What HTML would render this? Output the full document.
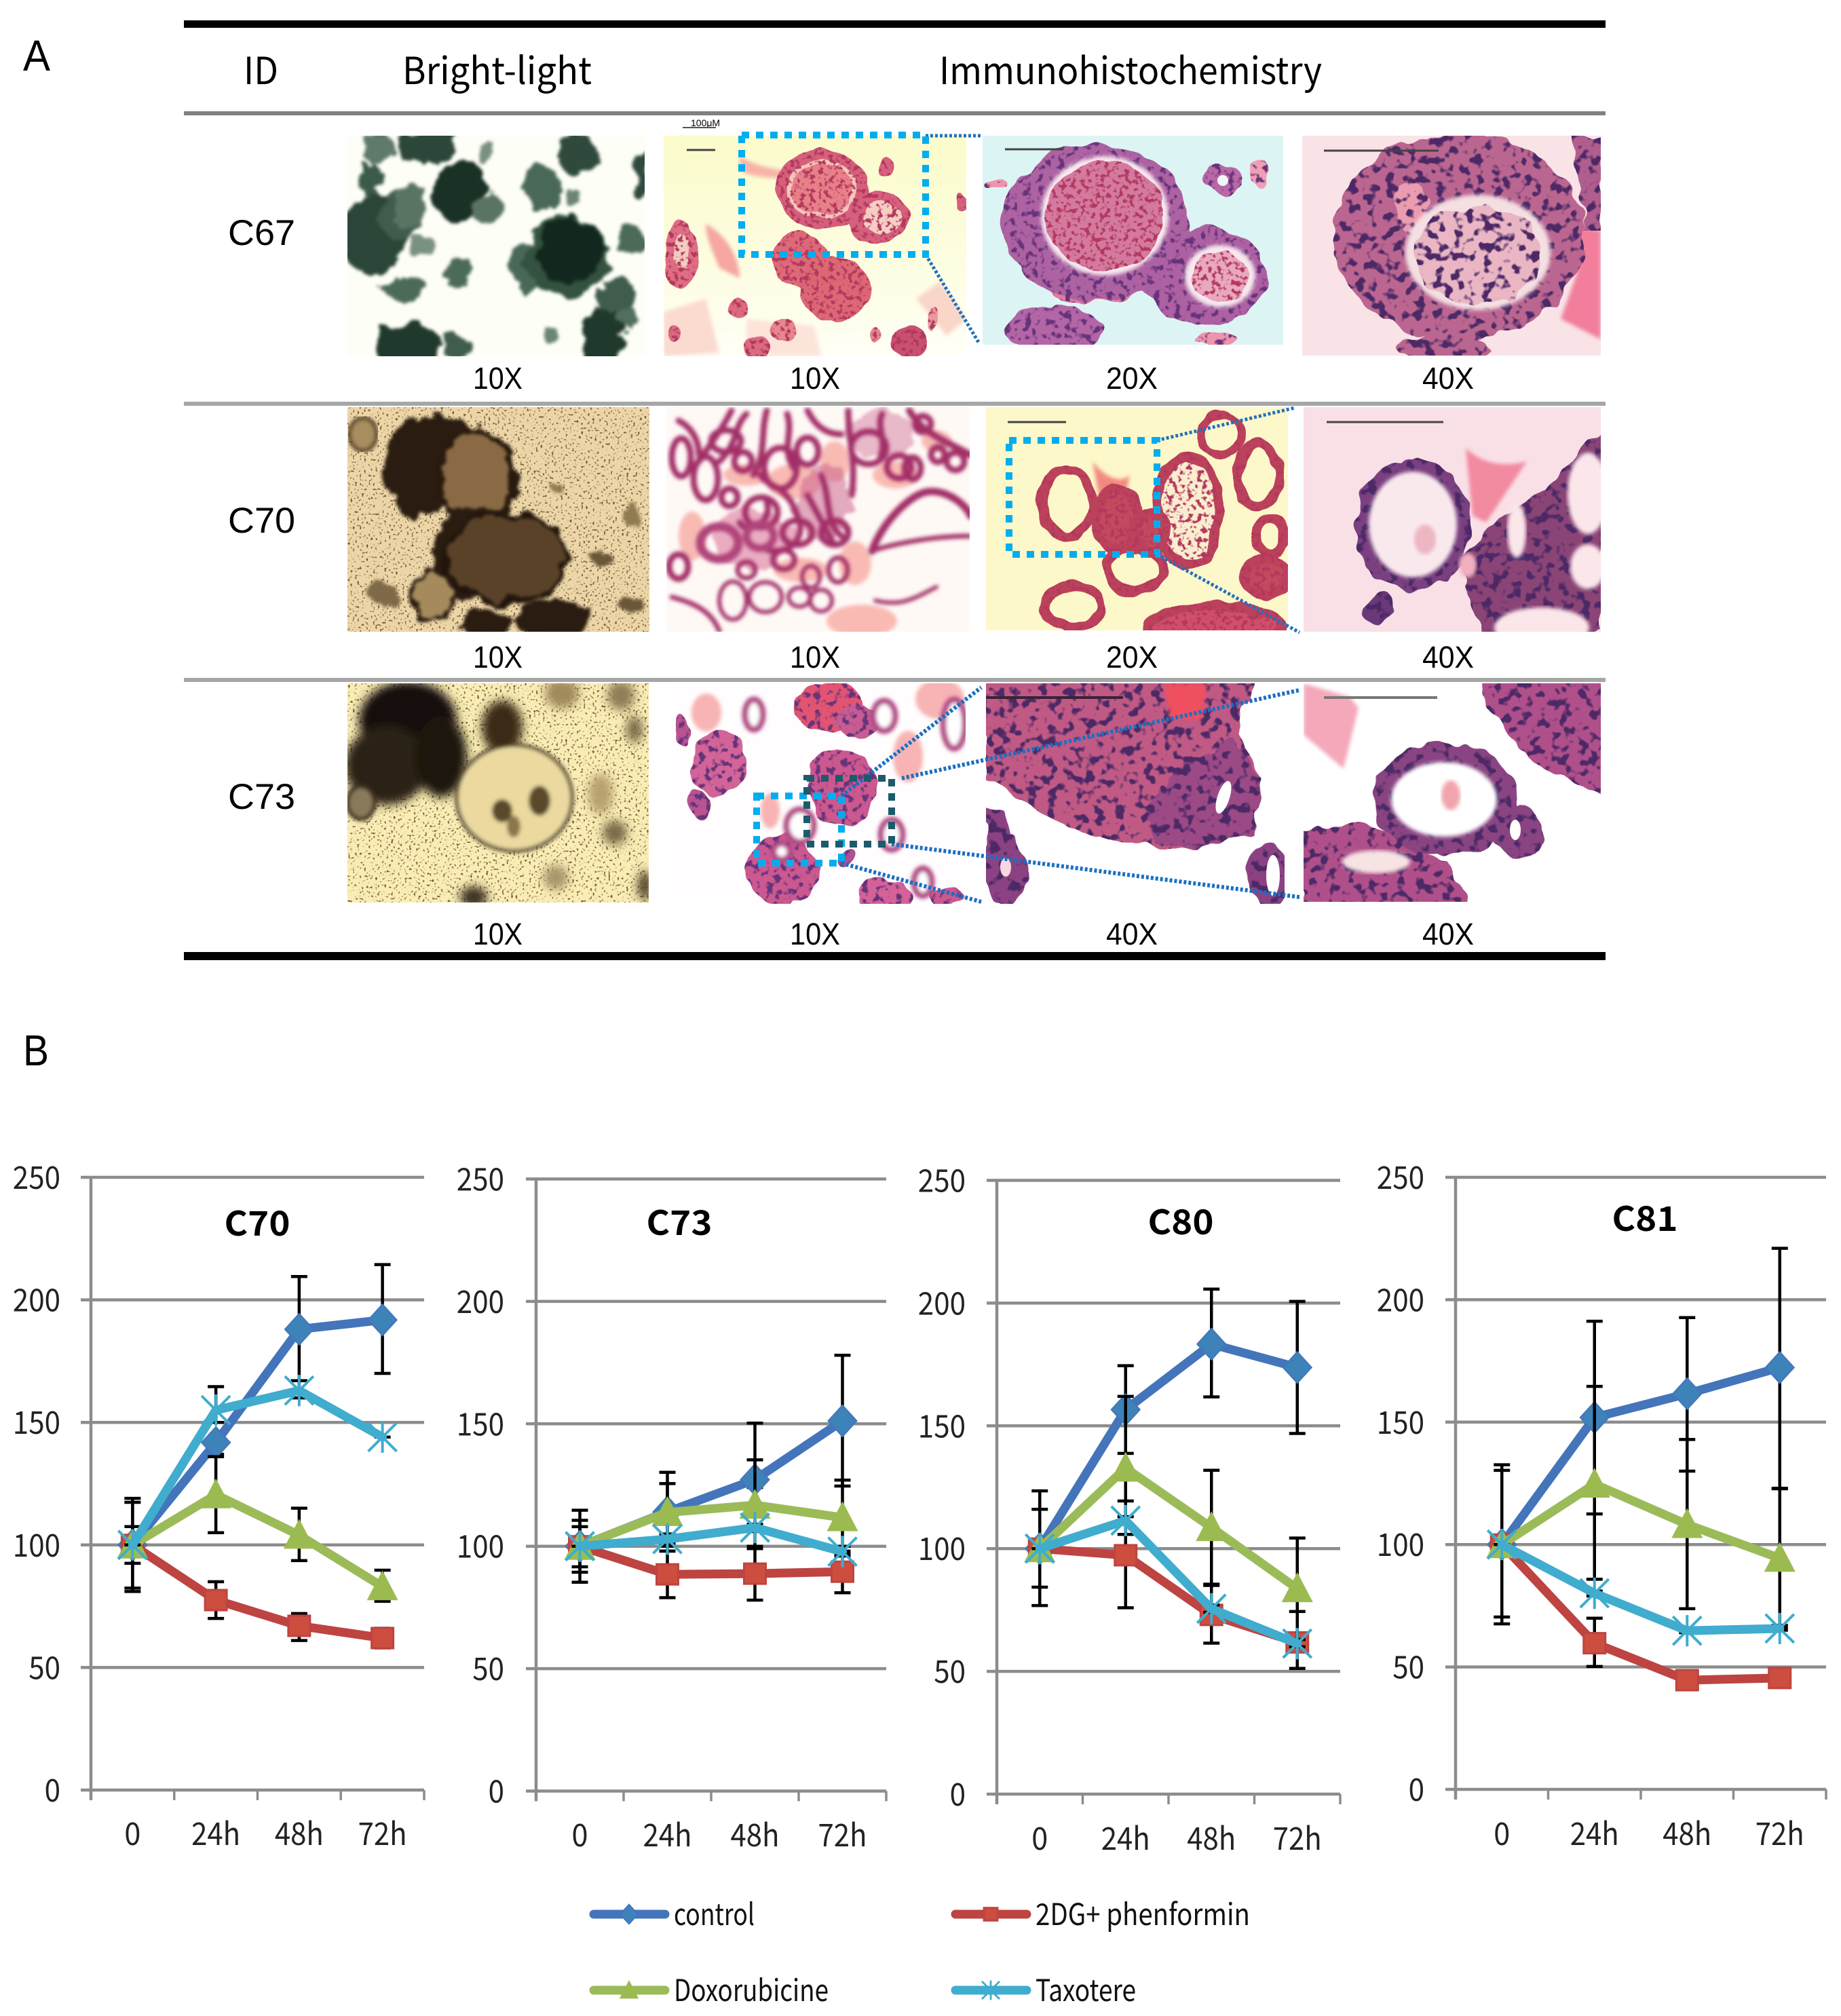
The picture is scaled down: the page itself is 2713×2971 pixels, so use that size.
<!DOCTYPE html>
<html lang="en">
<head>
<meta charset="utf-8">
<title>Organoid histology and drug response</title>
<style>
html,body{margin:0;padding:0;background:#fff;}
#figure{position:absolute;left:0;top:0;display:block;}
.kr{font-family:"Noto Sans CJK KR","Liberation Sans",sans-serif;}
.ar{font-family:"Liberation Sans",sans-serif;}
</style>
</head>
<body>
<svg id="figure" xmlns="http://www.w3.org/2000/svg" width="2713" height="2971" viewBox="0 0 2713 2971">
<defs>
  <filter id="soft" x="-5%" y="-5%" width="110%" height="110%"><feGaussianBlur stdDeviation="3"/></filter>
  <filter id="soft2" x="-10%" y="-10%" width="120%" height="120%"><feGaussianBlur stdDeviation="7"/></filter>
  <filter id="rough" x="-5%" y="-5%" width="110%" height="110%" color-interpolation-filters="sRGB">
    <feTurbulence type="fractalNoise" baseFrequency="0.035" numOctaves="3" seed="7" result="w"/>
    <feDisplacementMap in="SourceGraphic" in2="w" scale="30" xChannelSelector="R" yChannelSelector="G"/>
    <feGaussianBlur stdDeviation="2.5"/>
  </filter>
  <filter id="cells" x="-3%" y="-3%" width="106%" height="106%" color-interpolation-filters="sRGB">
    <feTurbulence type="fractalNoise" baseFrequency="0.03" numOctaves="2" seed="2" result="w"/>
    <feDisplacementMap in="SourceGraphic" in2="w" scale="20" xChannelSelector="R" yChannelSelector="G" result="s"/>
    <feTurbulence type="fractalNoise" baseFrequency="0.1" numOctaves="2" seed="4" result="n"/>
    <feColorMatrix in="n" type="matrix" values="0 0 0 0 .40  0 0 0 0 .20  0 0 0 0 .48  7 0 0 0 -3.7" result="d"/>
    <feComposite in="d" in2="s" operator="in" result="dots"/>
    <feMerge><feMergeNode in="s"/><feMergeNode in="dots"/></feMerge>
  </filter>
  <filter id="cellsBig" x="-3%" y="-3%" width="106%" height="106%" color-interpolation-filters="sRGB">
    <feTurbulence type="fractalNoise" baseFrequency="0.03" numOctaves="2" seed="5" result="w"/>
    <feDisplacementMap in="SourceGraphic" in2="w" scale="22" xChannelSelector="R" yChannelSelector="G" result="s"/>
    <feTurbulence type="fractalNoise" baseFrequency="0.07" numOctaves="2" seed="11" result="n"/>
    <feColorMatrix in="n" type="matrix" values="0 0 0 0 .30  0 0 0 0 .16  0 0 0 0 .40  8 0 0 0 -4.2" result="d"/>
    <feComposite in="d" in2="s" operator="in" result="dots"/>
    <feMerge><feMergeNode in="s"/><feMergeNode in="dots"/></feMerge>
  </filter>
  <filter id="cellsPink" x="-3%" y="-3%" width="106%" height="106%" color-interpolation-filters="sRGB">
    <feTurbulence type="fractalNoise" baseFrequency="0.03" numOctaves="2" seed="3" result="w"/>
    <feDisplacementMap in="SourceGraphic" in2="w" scale="14" xChannelSelector="R" yChannelSelector="G" result="s"/>
    <feTurbulence type="fractalNoise" baseFrequency="0.14" numOctaves="2" seed="6" result="n"/>
    <feColorMatrix in="n" type="matrix" values="0 0 0 0 .70  0 0 0 0 .22  0 0 0 0 .36  7 0 0 0 -3.6" result="d"/>
    <feComposite in="d" in2="s" operator="in" result="dots"/>
    <feMerge><feMergeNode in="s"/><feMergeNode in="dots"/></feMerge>
  </filter>
  <filter id="speck" x="0" y="0" width="100%" height="100%" color-interpolation-filters="sRGB">
    <feTurbulence type="fractalNoise" baseFrequency="0.3" numOctaves="1" seed="9" result="n"/>
    <feColorMatrix in="n" type="matrix" values="0 0 0 0 .45  0 0 0 0 .33  0 0 0 0 .18  7 0 0 0 -4.1" result="d"/>
    <feComposite in="d" in2="SourceAlpha" operator="in" result="dots"/>
    <feMerge><feMergeNode in="SourceGraphic"/><feMergeNode in="dots"/></feMerge>
  </filter>
  <linearGradient id="yel1" x1="0" y1="0" x2="0" y2="1"><stop offset="0" stop-color="#fbfbcb"/><stop offset=".55" stop-color="#fdfde0"/><stop offset="1" stop-color="#fffff6"/></linearGradient>
  <clipPath id="p11"><rect x="512" y="200" width="438" height="325"/></clipPath>
  <clipPath id="p12"><rect x="978" y="200" width="446" height="325"/></clipPath>
  <clipPath id="p13"><rect x="1448" y="200" width="443" height="308"/></clipPath>
  <clipPath id="p14"><rect x="1919" y="200" width="440" height="324"/></clipPath>
  <clipPath id="p21"><rect x="512" y="600" width="445" height="331"/></clipPath>
  <clipPath id="p22"><rect x="982" y="600" width="447" height="331"/></clipPath>
  <clipPath id="p23"><rect x="1453" y="600" width="445" height="329"/></clipPath>
  <clipPath id="p24"><rect x="1921" y="600" width="438" height="331"/></clipPath>
  <clipPath id="p31"><rect x="512" y="1007" width="444" height="323"/></clipPath>
  <clipPath id="p32"><rect x="983" y="1007" width="440" height="325"/></clipPath>
  <clipPath id="p33"><rect x="1453" y="1007" width="440" height="325"/></clipPath>
  <clipPath id="p34"><rect x="1921" y="1007" width="438" height="322"/></clipPath>
</defs>

<rect width="2713" height="2971" fill="#fff"/>

<text class="ar" x="34" y="104" font-size="64" textLength="40" lengthAdjust="spacingAndGlyphs">A</text>
<text class="ar" x="34" y="1570" font-size="64" textLength="38" lengthAdjust="spacingAndGlyphs">B</text>

<rect x="271" y="30" width="2095" height="11" fill="#000"/>
<rect x="271" y="164" width="2095" height="6" fill="#808080"/>
<rect x="271" y="592" width="2095" height="6" fill="#a6a6a6"/>
<rect x="271" y="999" width="2095" height="6" fill="#a6a6a6"/>
<rect x="271" y="1403" width="2095" height="12" fill="#000"/>

<text class="kr" x="359" y="124" font-size="55" textLength="51" lengthAdjust="spacingAndGlyphs">ID</text>
<text class="kr" x="593" y="124" font-size="55" textLength="279" lengthAdjust="spacingAndGlyphs">Bright-light</text>
<text class="kr" x="1384" y="124" font-size="55" textLength="564" lengthAdjust="spacingAndGlyphs">Immunohistochemistry</text>

<text class="ar" x="336" y="361" font-size="53" textLength="99" lengthAdjust="spacingAndGlyphs">C67</text>
<text class="ar" x="336" y="785" font-size="53" textLength="99" lengthAdjust="spacingAndGlyphs">C70</text>
<text class="ar" x="336" y="1192" font-size="53" textLength="99" lengthAdjust="spacingAndGlyphs">C73</text>

<!-- ROW 1 -->
<g clip-path="url(#p11)">
  <rect x="512" y="200" width="438" height="325" fill="#fdfef6"/>
  <g filter="url(#rough)">
    <ellipse cx="550" cy="345" rx="44" ry="62" fill="#2b4638"/>
    <ellipse cx="590" cy="320" rx="30" ry="38" fill="#3f5c4c"/>
    <ellipse cx="603" cy="305" rx="24" ry="28" fill="#5a7464"/>
    <ellipse cx="555" cy="217" rx="22" ry="22" fill="#5f7a6a"/>
    <ellipse cx="628" cy="215" rx="42" ry="26" fill="#2c4739"/>
    <ellipse cx="546" cy="262" rx="20" ry="24" fill="#3c5a4a"/>
    <ellipse cx="677" cy="285" rx="40" ry="46" fill="#1a3126"/>
    <ellipse cx="718" cy="310" rx="22" ry="20" fill="#5a7464"/>
    <ellipse cx="717" cy="223" rx="12" ry="16" fill="#7a9080"/>
    <ellipse cx="851" cy="227" rx="30" ry="30" fill="#2f4a3d"/>
    <ellipse cx="800" cy="275" rx="28" ry="33" fill="#4a6858"/>
    <ellipse cx="846" cy="294" rx="11" ry="12" fill="#6c8574"/>
    <ellipse cx="944" cy="263" rx="10" ry="34" fill="#2f4a3d"/>
    <ellipse cx="620" cy="364" rx="18" ry="14" fill="#7a9080"/>
    <ellipse cx="675" cy="404" rx="21" ry="23" fill="#4c6a58"/>
    <ellipse cx="592" cy="425" rx="29" ry="18" fill="#4c6a58"/>
    <ellipse cx="775" cy="395" rx="28" ry="36" fill="#4a6858"/>
    <ellipse cx="835" cy="378" rx="62" ry="60" fill="#33523f"/>
    <ellipse cx="840" cy="368" rx="50" ry="46" fill="#12271d"/>
    <ellipse cx="930" cy="355" rx="20" ry="24" fill="#4c6a58"/>
    <ellipse cx="911" cy="438" rx="28" ry="30" fill="#3f5c4c"/>
    <ellipse cx="925" cy="471" rx="15" ry="16" fill="#526e5e"/>
    <ellipse cx="601" cy="510" rx="48" ry="36" fill="#1f3a2c"/>
    <ellipse cx="675" cy="508" rx="22" ry="22" fill="#3f5c4c"/>
    <ellipse cx="888" cy="498" rx="30" ry="44" fill="#1f3a2c"/>
    <ellipse cx="814" cy="493" rx="11" ry="13" fill="#6c8574"/>
  </g>
</g>

<g clip-path="url(#p12)">
  <rect x="978" y="200" width="446" height="325" fill="url(#yel1)"/>
  <g filter="url(#soft)">
    <path d="M1090 230 C1120 250 1170 255 1200 250 L1190 262 C1150 262 1110 265 1090 250Z" fill="#f6b4a8"/>
    <path d="M1040 330 C1070 345 1090 380 1090 410 L1060 395 C1050 370 1040 350 1040 330Z" fill="#f6a79f"/>
    <path d="M1350 440 L1385 415 L1424 470 L1395 495Z" fill="#fad6c8"/>
    <path d="M978 460 L1040 440 L1060 520 L978 525Z" fill="#fbdad0"/>
    <path d="M1100 470 L1200 480 L1210 525 L1100 525Z" fill="#fce4da"/>
  </g>
  <g filter="url(#cellsPink)">
    <ellipse cx="1212" cy="279" rx="68" ry="58" fill="#d6607c"/>
    <ellipse cx="1212" cy="279" rx="52" ry="43" fill="#f4c8bc"/>
    <ellipse cx="1212" cy="279" rx="46" ry="38" fill="#e8808a"/>
    <ellipse cx="1293" cy="321" rx="46" ry="38" fill="#d6607e"/>
    <ellipse cx="1300" cy="320" rx="28" ry="25" fill="#f6cec4"/>
    <ellipse cx="1180" cy="383" rx="40" ry="42" fill="#dc6a78"/>
    <ellipse cx="1230" cy="426" rx="54" ry="46" fill="#dc6876"/>
    <ellipse cx="1004" cy="374" rx="24" ry="50" fill="#df6d84"/>
    <ellipse cx="1004" cy="370" rx="11" ry="26" fill="#f4ccc0"/>
    <ellipse cx="1115" cy="511" rx="18" ry="18" fill="#dc6a80"/>
    <ellipse cx="1156" cy="487" rx="18" ry="18" fill="#e6868e"/>
    <ellipse cx="1341" cy="505" rx="25" ry="24" fill="#c85070"/>
    <ellipse cx="1087" cy="456" rx="15" ry="15" fill="#dc6a80"/>
    <ellipse cx="1304" cy="247" rx="12" ry="14" fill="#d6607e"/>
    <ellipse cx="993" cy="490" rx="10" ry="14" fill="#dc6a80"/>
    <ellipse cx="1417" cy="300" rx="10" ry="14" fill="#d6607e"/>
    <ellipse cx="1290" cy="492" rx="8" ry="14" fill="#e6868e"/>
    <ellipse cx="1375" cy="470" rx="7" ry="18" fill="#ea9a9e"/>
  </g>
</g>

<g clip-path="url(#p13)">
  <rect x="1448" y="200" width="443" height="308" fill="#dcf5f4"/>
  <g filter="url(#cells)">
    <path d="M1540 418 C1580 440 1630 440 1680 420 L1660 445 L1560 445Z" fill="#e8789e"/>
    <ellipse cx="1615" cy="329" rx="139" ry="115" fill="#ad62a2"/>
    <ellipse cx="1776" cy="407" rx="91" ry="73" fill="#ad60a2"/>
    <ellipse cx="1554" cy="486" rx="72" ry="36" fill="#b366a6"/>
    <ellipse cx="1802" cy="266" rx="28" ry="24" fill="#b868a6"/>
    <ellipse cx="1470" cy="273" rx="16" ry="8" fill="#ee94ae"/>
    <ellipse cx="1855" cy="255" rx="14" ry="20" fill="#f0a0b6"/>
    <ellipse cx="1790" cy="500" rx="30" ry="8" fill="#ee94ae"/>
  </g>
  <ellipse cx="1628" cy="318" rx="94" ry="88" fill="#f8e8ee" filter="url(#soft)"/>
  <ellipse cx="1798" cy="407" rx="52" ry="46" fill="#f7e8ee" filter="url(#soft)"/>
  <g filter="url(#cellsPink)">
    <ellipse cx="1628" cy="318" rx="87" ry="81" fill="#d47aa0"/>
    <ellipse cx="1798" cy="407" rx="43" ry="37" fill="#e8a8c0"/>
  </g>
  <ellipse cx="1802" cy="266" rx="8" ry="8" fill="#eef7f7"/>
  <line x1="1481" y1="220" x2="1567" y2="220" stroke="#444" stroke-width="3"/>
</g>

<g clip-path="url(#p14)">
  <rect x="1919" y="200" width="440" height="324" fill="#f9e3e6"/>
  <g filter="url(#soft)"><path d="M2310 330 L2359 340 L2359 500 L2300 470 L2325 400Z" fill="#f27e9c"/></g>
  <g filter="url(#cellsBig)">
    <ellipse cx="2150" cy="348" rx="185" ry="152" fill="#bb6690"/>
    <path d="M2320 200 L2359 200 L2359 340 L2335 340Z" fill="#b05e8e"/>
    <ellipse cx="2124" cy="512" rx="70" ry="18" fill="#bb6690"/>
    <ellipse cx="2080" cy="305" rx="25" ry="40" fill="#ec9cb0"/>
  </g>
  <ellipse cx="2178" cy="372" rx="107" ry="85" fill="#f4dfe2" filter="url(#soft)"/>
  <g filter="url(#cellsBig)"><ellipse cx="2178" cy="376" rx="94" ry="72" fill="#eab6c4"/></g>
  <line x1="1951" y1="222" x2="2120" y2="222" stroke="#444" stroke-width="3"/>
</g>

<!-- ROW 2 -->
<g clip-path="url(#p21)">
  <g filter="url(#speck)"><rect x="512" y="600" width="445" height="331" fill="#ecd6a8"/></g>
  <g filter="url(#soft)">
    <ellipse cx="535" cy="640" rx="20" ry="24" fill="#a88e5e" stroke="#3a2a18" stroke-width="5"/>
  </g>
  <g filter="url(#rough)">
    <ellipse cx="622" cy="688" rx="56" ry="76" fill="#2a1c10"/>
    <ellipse cx="660" cy="640" rx="40" ry="28" fill="#2a1c10"/>
    <ellipse cx="703" cy="704" rx="56" ry="68" fill="#8a6a44" stroke="#281a0e" stroke-width="9"/>
    <ellipse cx="690" cy="815" rx="50" ry="70" fill="#2a1c10"/>
    <ellipse cx="745" cy="822" rx="88" ry="66" fill="#5a4228" stroke="#22160c" stroke-width="9"/>
    <ellipse cx="638" cy="878" rx="30" ry="38" fill="#a58a5c" stroke="#2a1c10" stroke-width="6"/>
    <ellipse cx="815" cy="912" rx="55" ry="30" fill="#2a1c10"/>
    <ellipse cx="720" cy="920" rx="40" ry="20" fill="#2a1c10"/>
    <ellipse cx="934" cy="759" rx="14" ry="17" fill="#8f7a52"/>
    <ellipse cx="885" cy="822" rx="12" ry="12" fill="#6a5638"/>
    <ellipse cx="820" cy="718" rx="9" ry="9" fill="#8f7a52"/>
    <ellipse cx="930" cy="890" rx="17" ry="15" fill="#6a5638"/>
    <ellipse cx="565" cy="875" rx="22" ry="16" fill="#7e6a48"/>
  </g>
</g>

<g clip-path="url(#p22)">
  <rect x="982" y="600" width="447" height="331" fill="#fff9f6"/>
  <g filter="url(#soft)" fill="#f8b0a8" opacity=".85">
    <ellipse cx="1170" cy="710" rx="40" ry="26"/><ellipse cx="1020" cy="790" rx="20" ry="36"/>
    <ellipse cx="1320" cy="700" rx="34" ry="20"/><ellipse cx="1270" cy="915" rx="52" ry="24"/>
    <ellipse cx="1260" cy="830" rx="24" ry="32"/><ellipse cx="1380" cy="650" rx="22" ry="16"/>
    <ellipse cx="1100" cy="700" rx="34" ry="16"/><ellipse cx="1230" cy="680" rx="22" ry="30"/>
    <ellipse cx="1180" cy="840" rx="40" ry="18"/>
  </g>
  <g filter="url(#rough)">
    <ellipse cx="1110" cy="795" rx="60" ry="44" fill="#d86e96" opacity=".55"/>
    <ellipse cx="1215" cy="740" rx="42" ry="54" fill="#c85a88" opacity=".5"/>
    <ellipse cx="1300" cy="640" rx="50" ry="36" fill="#c85a88" opacity=".4"/>
  </g>
  <g fill="none" stroke="#a22f66" stroke-width="9" stroke-linecap="round" filter="url(#soft)">
    <path d="M1285 812 C1300 770 1340 730 1365 725 C1395 720 1425 745 1430 760" stroke-width="11"/>
    <path d="M1285 812 C1320 800 1380 790 1428 790" stroke-width="7"/>
    <path d="M1340 605 C1360 640 1395 650 1429 670" stroke-width="10"/>
    <path d="M1078 605 C1060 640 1042 660 1030 680"/>
    <path d="M1130 605 C1120 640 1130 670 1110 700"/>
    <path d="M1190 605 C1200 625 1215 640 1240 640"/>
    <path d="M1250 605 C1250 650 1262 680 1255 730"/>
    <path d="M1120 700 C1135 720 1160 715 1175 760 C1190 790 1165 820 1130 810"/>
    <path d="M1210 700 C1225 735 1215 770 1240 790"/>
    <path d="M990 880 C1030 890 1050 905 1060 930" stroke-width="7"/>
    <path d="M1290 885 C1330 895 1350 880 1380 865" stroke-width="6"/>
    <path d="M1190 730 L1228 800"/>
    <path d="M1100 610 C1080 630 1090 650 1060 680"/>
    <path d="M1160 610 C1170 640 1150 660 1170 690"/>
    <path d="M1300 610 C1290 630 1310 650 1295 680"/>
    <path d="M1000 620 C1020 630 1030 650 1030 670"/>
    <path d="M1130 740 C1140 770 1100 790 1090 770"/>
    <ellipse cx="1004" cy="674" rx="14" ry="28"/><ellipse cx="1040" cy="705" rx="18" ry="32"/>
    <ellipse cx="1070" cy="650" rx="22" ry="16"/><ellipse cx="1075" cy="733" rx="12" ry="13"/>
    <ellipse cx="1150" cy="690" rx="24" ry="30"/><ellipse cx="1122" cy="755" rx="24" ry="22"/>
    <ellipse cx="1175" cy="785" rx="22" ry="18"/><ellipse cx="1230" cy="785" rx="20" ry="18"/>
    <ellipse cx="1325" cy="688" rx="18" ry="17"/><ellipse cx="1280" cy="660" rx="26" ry="24"/>
    <ellipse cx="1382" cy="670" rx="10" ry="11"/><ellipse cx="1408" cy="680" rx="13" ry="13"/>
    <ellipse cx="1128" cy="880" rx="24" ry="22" stroke-width="6"/><ellipse cx="1080" cy="885" rx="20" ry="28" stroke-width="6"/>
    <ellipse cx="1195" cy="850" rx="13" ry="16" stroke-width="6"/><ellipse cx="1178" cy="880" rx="16" ry="14" stroke-width="6"/>
    <ellipse cx="1210" cy="885" rx="16" ry="16" stroke-width="6"/><ellipse cx="1000" cy="835" rx="14" ry="18"/>
    <ellipse cx="1060" cy="800" rx="28" ry="24" stroke="#b0447a" stroke-width="13"/>
    <ellipse cx="1120" cy="790" rx="20" ry="18" stroke="#b0447a" stroke-width="11"/>
    <ellipse cx="1155" cy="825" rx="16" ry="14" stroke-width="8"/>
    <ellipse cx="1100" cy="840" rx="13" ry="12" stroke-width="7"/>
    <ellipse cx="1235" cy="840" rx="14" ry="18" stroke-width="7"/>
    <ellipse cx="1345" cy="690" rx="12" ry="16"/>
    <ellipse cx="1190" cy="665" rx="16" ry="20"/>
    <ellipse cx="1095" cy="680" rx="13" ry="14"/>
    <ellipse cx="1360" cy="625" rx="12" ry="12"/>
  </g>
</g>

<g clip-path="url(#p23)">
  <rect x="1453" y="600" width="445" height="329" fill="#fdf8c9"/>
  <g filter="url(#soft)"><path d="M1610 680 C1625 700 1650 715 1665 700 L1650 770 L1625 760Z" fill="#f08a80"/></g>
  <g filter="url(#cellsPink)" fill="none" stroke="#bc425c" stroke-width="14">
    <ellipse cx="1572" cy="741" rx="38" ry="50"/>
    <ellipse cx="1750" cy="753" rx="46" ry="80" fill="#fbeed0"/>
    <ellipse cx="1672" cy="838" rx="42" ry="32"/>
    <ellipse cx="1580" cy="894" rx="42" ry="30"/>
    <ellipse cx="1854" cy="700" rx="30" ry="45"/>
    <ellipse cx="1872" cy="790" rx="22" ry="26"/>
    <ellipse cx="1790" cy="925" rx="100" ry="32" fill="#d04e68"/>
    <ellipse cx="1800" cy="640" rx="30" ry="30" stroke-width="12"/>
    <ellipse cx="1646" cy="765" rx="30" ry="46" fill="#c4485e"/>
    <ellipse cx="1697" cy="785" rx="20" ry="30" fill="#c4485e"/>
    <ellipse cx="1865" cy="850" rx="32" ry="26" fill="#c4485e"/>
  </g>
  <line x1="1485" y1="622" x2="1571" y2="622" stroke="#444" stroke-width="3"/>
</g>

<g clip-path="url(#p24)">
  <rect x="1921" y="600" width="438" height="331" fill="#f9e0e7"/>
  <g filter="url(#soft)"><path d="M2160 660 C2180 680 2210 690 2250 680 L2190 770 L2170 760Z" fill="#f28aa0"/></g>
  <g filter="url(#cellsBig)">
    <path d="M2359 637 C2320 655 2300 700 2280 722 C2230 740 2195 770 2180 800 L2150 820 L2165 870 L2180 931 L2359 931Z" fill="#8a4476"/>
    <ellipse cx="2082" cy="773" rx="85" ry="97" fill="#7a4080"/>
    <ellipse cx="2033" cy="897" rx="26" ry="24" fill="#6a3a78"/>
  </g>
  <ellipse cx="2082" cy="773" rx="65" ry="78" fill="#f9e9ed" filter="url(#soft)"/>
  <ellipse cx="2100" cy="795" rx="16" ry="22" fill="#eeb5c2" filter="url(#soft)"/>
  <ellipse cx="2340" cy="727" rx="30" ry="60" fill="#fbe6ea" filter="url(#soft)"/>
  <ellipse cx="2340" cy="835" rx="26" ry="33" fill="#fbe6ea" filter="url(#soft)"/>
  <ellipse cx="2235" cy="782" rx="14" ry="40" fill="#fbe6ea" filter="url(#soft)"/>
  <ellipse cx="2163" cy="833" rx="13" ry="18" fill="#f0b0c0" filter="url(#soft)"/>
  <ellipse cx="2272" cy="925" rx="70" ry="30" fill="#fbe6ea" filter="url(#soft)"/>
  <line x1="1955" y1="622" x2="2127" y2="622" stroke="#444" stroke-width="3"/>
</g>

<!-- ROW 3 -->
<g clip-path="url(#p31)">
  <g filter="url(#speck)"><rect x="512" y="1007" width="444" height="323" fill="#f9ecb4"/></g>
  <g filter="url(#soft2)">
    <ellipse cx="601" cy="1062" rx="72" ry="58" fill="#17110a"/>
    <ellipse cx="570" cy="1128" rx="62" ry="58" fill="#2a2012"/>
    <ellipse cx="650" cy="1115" rx="38" ry="60" fill="#1c150c"/>
    <ellipse cx="740" cy="1072" rx="30" ry="40" fill="#3a2c18"/>
    <ellipse cx="828" cy="1022" rx="25" ry="22" fill="#a08a5c"/>
    <ellipse cx="915" cy="1025" rx="20" ry="22" fill="#8f7d56"/>
    <ellipse cx="935" cy="1075" rx="12" ry="20" fill="#7a6a48"/>
    <ellipse cx="885" cy="1170" rx="18" ry="30" fill="#b8a270"/>
    <ellipse cx="906" cy="1227" rx="18" ry="18" fill="#7a6a48"/>
    <ellipse cx="819" cy="1293" rx="18" ry="18" fill="#a8946a"/>
    <ellipse cx="698" cy="1322" rx="20" ry="16" fill="#3c3020"/>
    <ellipse cx="950" cy="1305" rx="10" ry="22" fill="#4e4028"/>
  </g>
  <g filter="url(#soft)">
    <ellipse cx="758" cy="1176" rx="85" ry="78" fill="#ebd9a0" stroke="#3a2e1c" stroke-width="5"/>
    <ellipse cx="740" cy="1195" rx="15" ry="17" fill="#5a4a2c"/>
    <ellipse cx="795" cy="1180" rx="16" ry="22" fill="#5a4a2c"/>
    <ellipse cx="757" cy="1218" rx="10" ry="16" fill="#8a7648"/>
    <ellipse cx="532" cy="1183" rx="20" ry="24" fill="#8a7a5c" stroke="#3a2e1c" stroke-width="6"/>
  </g>
</g>

<g clip-path="url(#p32)">
  <rect x="983" y="1007" width="440" height="325" fill="#fffdfd"/>
  <g filter="url(#soft)" fill="#f8b4b4">
    <ellipse cx="1041" cy="1050" rx="22" ry="28"/>
    <ellipse cx="1385" cy="1030" rx="36" ry="30"/>
    <ellipse cx="1338" cy="1115" rx="22" ry="38"/>
    <ellipse cx="1135" cy="1195" rx="14" ry="26"/>
  </g>
  <g filter="url(#cells)">
    <ellipse cx="1221" cy="1042" rx="52" ry="40" fill="#e25472"/>
    <ellipse cx="1262" cy="1064" rx="34" ry="24" fill="#c85c92"/>
    <ellipse cx="1059" cy="1123" rx="42" ry="48" fill="#d26498"/>
    <ellipse cx="1240" cy="1160" rx="50" ry="58" fill="#cc5890"/>
    <ellipse cx="1152" cy="1282" rx="53" ry="52" fill="#cc5890"/>
    <ellipse cx="1304" cy="1320" rx="42" ry="26" fill="#d46298"/>
    <ellipse cx="1030" cy="1187" rx="16" ry="22" fill="#b85490"/>
    <ellipse cx="1005" cy="1075" rx="12" ry="22" fill="#b85490"/>
    <ellipse cx="1395" cy="1320" rx="24" ry="14" fill="#cc5890"/>
    <ellipse cx="1245" cy="1266" rx="10" ry="11" fill="#b04f92"/>
  </g>
  <g fill="#fff" stroke="#b04a84" stroke-width="9" filter="url(#soft)">
    <ellipse cx="1111" cy="1053" rx="13" ry="22"/>
    <ellipse cx="1303" cy="1055" rx="16" ry="22"/>
    <ellipse cx="1406" cy="1067" rx="16" ry="36"/>
    <ellipse cx="1179" cy="1217" rx="20" ry="24"/>
    <ellipse cx="1314" cy="1230" rx="16" ry="22"/>
    <ellipse cx="1360" cy="1300" rx="13" ry="20"/>
    <ellipse cx="1152" cy="1255" rx="12" ry="12"/>
  </g>
</g>

<g clip-path="url(#p33)">
  <rect x="1453" y="1007" width="440" height="325" fill="#fff"/>
  <g filter="url(#cellsBig)">
    <path d="M1453 1000 L1846 1000 L1824 1080 L1859 1147 L1850 1227 L1767 1250 L1715 1250 L1611 1233 L1524 1193 L1453 1147Z" fill="#c05a84"/>
    <path d="M1700 1240 L1690 1190 L1740 1130 L1815 1090 L1859 1147 L1850 1227 L1767 1250Z" fill="#9c4a86"/>
    <ellipse cx="1480" cy="1280" rx="32" ry="54" fill="#8c4282"/>
    <path d="M1453 1185 L1480 1200 L1490 1240 L1453 1260Z" fill="#8c4282"/>
    <ellipse cx="1868" cy="1290" rx="30" ry="48" fill="#8c4282"/>
  </g>
  <path d="M1715 1007 L1780 1007 L1770 1060 L1725 1060Z" fill="#f0505e" filter="url(#soft)"/>
  <ellipse cx="1482" cy="1278" rx="8" ry="14" fill="#f6d8e0"/>
  <ellipse cx="1876" cy="1290" rx="10" ry="30" fill="#fff"/>
  <ellipse cx="1803" cy="1175" rx="9" ry="25" fill="#fff" transform="rotate(18 1803 1175)"/>
  <line x1="1453" y1="1028" x2="1655" y2="1028" stroke="#3a2238" stroke-width="4"/>
</g>

<g clip-path="url(#p34)">
  <rect x="1921" y="1007" width="438" height="322" fill="#fff"/>
  <path d="M1921 1007 L1989 1027 L2002 1043 L1980 1133 L1921 1083Z" fill="#f4a8ba" filter="url(#soft)"/>
  <g filter="url(#cellsBig)">
    <path d="M2185 1000 L2365 1000 L2365 1176 L2254 1120 L2193 1043Z" fill="#b0508a"/>
    <path d="M1915 1223 L2028 1215 L2133 1270 L2170 1340 L1915 1340Z" fill="#b0508a"/>
    <ellipse cx="2130" cy="1177" rx="106" ry="82" fill="#8a4482"/>
    <ellipse cx="2237" cy="1228" rx="39" ry="38" fill="#8a4482"/>
  </g>
  <ellipse cx="2128" cy="1178" rx="78" ry="55" fill="#fff" filter="url(#soft)"/>
  <ellipse cx="2233" cy="1223" rx="8" ry="15" fill="#fff"/>
  <ellipse cx="2028" cy="1270" rx="50" ry="17" fill="#f7e3e4" filter="url(#soft)"/>
  <ellipse cx="2138" cy="1172" rx="14" ry="22" fill="#f2a4ae" filter="url(#soft)"/>
  <line x1="1951" y1="1028" x2="2118" y2="1028" stroke="#777" stroke-width="4"/>
</g>

<!-- Scale notes and zoom boxes -->
<text class="ar" x="1018" y="186" font-size="14">100μM</text>
<line x1="1006" y1="188" x2="1055" y2="188" stroke="#555" stroke-width="2"/>
<line x1="1012" y1="221" x2="1054" y2="221" stroke="#444" stroke-width="3"/>

<g fill="none" stroke="#2470bd" stroke-width="5" stroke-dasharray="4 3">
  <line x1="1364" y1="200" x2="1445" y2="200"/>
  <line x1="1364" y1="375" x2="1443" y2="506"/>
</g>
<rect x="1093" y="199" width="271" height="176" fill="none" stroke="#00aeef" stroke-width="10" stroke-dasharray="11 10"/>

<g fill="none" stroke="#2470bd" stroke-width="5" stroke-dasharray="4 3">
  <line x1="1705" y1="649" x2="1908" y2="601"/>
  <line x1="1705" y1="817" x2="1915" y2="932"/>
</g>
<rect x="1487" y="649" width="218" height="168" fill="none" stroke="#00aeef" stroke-width="10" stroke-dasharray="11 10"/>

<g fill="none" stroke="#1b6fc2" stroke-width="6" stroke-dasharray="4 3">
  <line x1="1240" y1="1173" x2="1446" y2="1013"/>
  <line x1="1240" y1="1272" x2="1446" y2="1329"/>
  <line x1="1329" y1="1147" x2="1915" y2="1017"/>
  <line x1="1314" y1="1244" x2="1915" y2="1322"/>
</g>
<rect x="1115" y="1173" width="125" height="99" fill="none" stroke="#00aeef" stroke-width="10" stroke-dasharray="11 10"/>
<rect x="1189" y="1147" width="125" height="97" fill="none" stroke="#1d5a6b" stroke-width="10" stroke-dasharray="11 10"/>

<!-- Magnification captions -->
<g class="ar" font-size="45">
  <text x="697" y="573" textLength="73" lengthAdjust="spacingAndGlyphs">10X</text>
  <text x="1164" y="573" textLength="74" lengthAdjust="spacingAndGlyphs">10X</text>
  <text x="1630" y="573" textLength="76" lengthAdjust="spacingAndGlyphs">20X</text>
  <text x="2096" y="573" textLength="76" lengthAdjust="spacingAndGlyphs">40X</text>
  <text x="697" y="984" textLength="73" lengthAdjust="spacingAndGlyphs">10X</text>
  <text x="1164" y="984" textLength="74" lengthAdjust="spacingAndGlyphs">10X</text>
  <text x="1630" y="984" textLength="76" lengthAdjust="spacingAndGlyphs">20X</text>
  <text x="2096" y="984" textLength="76" lengthAdjust="spacingAndGlyphs">40X</text>
  <text x="697" y="1392" textLength="73" lengthAdjust="spacingAndGlyphs">10X</text>
  <text x="1164" y="1392" textLength="74" lengthAdjust="spacingAndGlyphs">10X</text>
  <text x="1630" y="1392" textLength="76" lengthAdjust="spacingAndGlyphs">40X</text>
  <text x="2096" y="1392" textLength="76" lengthAdjust="spacingAndGlyphs">40X</text>
</g>

<g id="charts"></g>
<g id="legend"></g>
</svg>

<script>
const categories = ['0', '24h', '48h', '72h'];
const yTickValues = [0, 50, 100, 150, 200, 250];
const yMax = 250;
const seriesLabels = ['control', '2DG+ phenformin', 'Doxorubicine', 'Taxotere'];

const c70Control = [100, 141.8, 188, 191.8];
const c70ControlLow = [81, 137, 167, 170];
const c70ControlHigh = [119, 144, 209.5, 214.4];
const c70Phenformin = [100, 77.5, 67, 62];
const c70PhenforminLow = [92.5, 70, 61, 58];
const c70PhenforminHigh = [107.5, 85, 72, 66];
const c70Doxorubicine = [100, 120.5, 104, 83];
const c70DoxorubicineLow = [82.4, 105, 93.6, 77];
const c70DoxorubicineHigh = [117.4, 136, 115, 89.7];
const c70Taxotere = [100, 155, 163, 144];
const c70TaxotereLow = [100, 150, 160, 144];
const c70TaxotereHigh = [100, 164.6, 167, 144];

const c73Control = [100, 114, 127.2, 151.2];
const c73ControlLow = [85.3, 98, 124, 124.6];
const c73ControlHigh = [114.7, 130.2, 150.3, 178];
const c73Phenformin = [100, 88.5, 88.8, 89.6];
const c73PhenforminLow = [91.6, 79, 78, 81];
const c73PhenforminHigh = [108, 98, 100, 98];
const c73Doxorubicine = [100, 113.8, 116.8, 111.7];
const c73DoxorubicineLow = [89.4, 100, 99, 97];
const c73DoxorubicineHigh = [110.6, 125.6, 135.3, 127];
const c73Taxotere = [100, 102.9, 107.6, 97.8];
const c73TaxotereLow = [100, 101, 106, 96];
const c73TaxotereHigh = [100, 105, 109, 100];

const c80Control = [100, 156.6, 183.3, 173.8];
const c80ControlLow = [76.8, 138.8, 161.8, 146.9];
const c80ControlHigh = [123.5, 174.5, 205.7, 200.7];
const c80Phenformin = [100, 97.3, 73, 61.8];
const c80PhenforminLow = [100, 75.9, 61.5, 51.2];
const c80PhenforminHigh = [100, 119.4, 85, 74.4];
const c80Doxorubicine = [100, 132.8, 108.6, 83.7];
const c80DoxorubicineLow = [84.3, 105.8, 85.5, 63];
const c80DoxorubicineHigh = [116, 162, 131.9, 104.3];
const c80Taxotere = [100, 111.4, 75.5, 61.3];
const c80TaxotereLow = [100, 110, 74, 60];
const c80TaxotereHigh = [100, 113, 77, 63];

const c81Control = [100, 151.9, 161.6, 172.3];
const c81ControlLow = [67.6, 112.5, 130, 123];
const c81ControlHigh = [132.6, 191.2, 192.7, 221];
const c81Phenformin = [100, 59.7, 44.6, 45.5];
const c81PhenforminLow = [100, 50.2, 43, 44];
const c81PhenforminHigh = [100, 69.9, 46, 47];
const c81Doxorubicine = [100, 124.7, 108.2, 94.4];
const c81DoxorubicineLow = [70.4, 85.8, 73.8, 66];
const c81DoxorubicineHigh = [130.3, 164.6, 142.9, 122.8];
const c81Taxotere = [100, 80.1, 64.8, 65.7];
const c81TaxotereLow = [100, 79, 64, 65];
const c81TaxotereHigh = [100, 81, 66, 67];

const NS = 'http://www.w3.org/2000/svg';
const chartsRoot = document.getElementById('charts');
const legendRoot = document.getElementById('legend');

const seriesStyles = [
  { key: 'control', line: '#4475ba', marker: '#3d83b9', shape: 'diamond' },
  { key: 'phenformin', line: '#bd4441', marker: '#cd4e3f', shape: 'square' },
  { key: 'doxorubicine', line: '#9bbb59', marker: '#9bbb50', shape: 'triangle' },
  { key: 'taxotere', line: '#40acce', marker: '#40acce', shape: 'star' }
];

function mk(tag, attrs, parent) {
  const el = document.createElementNS(NS, tag);
  for (const k in attrs) el.setAttribute(k, attrs[k]);
  parent.appendChild(el);
  return el;
}

function drawMarker(shape, cx, cy, fill, parent, s) {
  let el;
  if (shape === 'diamond') {
    el = mk('polygon', { points: [[cx, cy - 23 * s], [cx + 21 * s, cy], [cx, cy + 23 * s], [cx - 21 * s, cy]].join(' '), fill: fill, stroke: '#4475ba', 'stroke-width': 2 }, parent);
  } else if (shape === 'square') {
    el = mk('rect', { x: cx - 16 * s, y: cy - 15 * s, width: 32 * s, height: 30 * s, fill: fill, stroke: '#bd4441', 'stroke-width': 3 }, parent);
  } else if (shape === 'triangle') {
    el = mk('polygon', { points: [[cx, cy - 24 * s], [cx + 23 * s, cy + 20 * s], [cx - 23 * s, cy + 20 * s]].join(' '), fill: fill }, parent);
  } else {
    const r = 21 * s;
    const d = 'M' + (cx - r) + ' ' + (cy - r) + 'L' + (cx + r) + ' ' + (cy + r) + 'M' + (cx + r) + ' ' + (cy - r) + 'L' + (cx - r) + ' ' + (cy + r) + 'M' + cx + ' ' + (cy - r * 1.1) + 'L' + cx + ' ' + (cy + r * 1.1);
    el = mk('path', { d: d, fill: 'none', stroke: fill, 'stroke-width': 4 * Math.max(s, .7) }, parent);
  }
  return el;
}

function drawPanel(panel) {
  const g = mk('g', {}, chartsRoot);
  
  

  const band = (panel.x1 - panel.x0) / categories.length;
  const xScale = function (i) { return panel.x0 + band * (i + 0.5); };
  const yScale = function (v) { return panel.yBottom - (v / yMax) * (panel.yBottom - panel.yTop); };

  yTickValues.forEach(function (t) {
    const grid = mk('line', { x1: panel.x0 - 15, x2: panel.x1, y1: yScale(t), y2: yScale(t), stroke: '#8c8c8c', 'stroke-width': 4.5 }, g);
    
    
    const label = mk('text', { x: panel.labelRight, y: yScale(t) + 17, 'text-anchor': 'end', 'font-size': 46, class: 'kr', fill: '#222', textLength: String(t).length * 23.4, lengthAdjust: 'spacingAndGlyphs' }, g);
    label.textContent = String(t);
    
    
  });

  const yAxis = mk('line', { x1: panel.x0, x2: panel.x0, y1: panel.yTop, y2: panel.yBottom + 15, stroke: '#8c8c8c', 'stroke-width': 4.5 }, g);
  
  

  for (let i = 0; i <= categories.length; i++) {
    const tick = mk('line', { x1: panel.x0 + band * i, x2: panel.x0 + band * i, y1: panel.yBottom, y2: panel.yBottom + 15, stroke: '#8c8c8c', 'stroke-width': 3.5 }, g);
    
    
  }

  categories.forEach(function (c, i) {
    const label = mk('text', { x: xScale(i), y: panel.xLabelBaseline + 1, 'text-anchor': 'middle', 'font-size': 46, class: 'kr', fill: '#222', textLength: c.length === 1 ? 24 : 72, lengthAdjust: 'spacingAndGlyphs' }, g);
    label.textContent = c;
    
    
  });

  const title = mk('text', { x: panel.titleX, y: panel.titleBaseline, 'text-anchor': 'middle', 'font-size': 50, 'font-weight': 'bold', class: 'kr', fill: '#000', textLength: 97, lengthAdjust: 'spacingAndGlyphs' }, g);
  title.textContent = panel.title;
  
  

  panel.series.forEach(function (s, idx) {
    const style = seriesStyles[idx];
    const sg = mk('g', {}, g);
    
    

    s.values.forEach(function (v, i) {
      const x = xScale(i);
      const lo = yScale(s.low[i]);
      const hi = yScale(s.high[i]);
      const err = mk('path', { d: 'M' + x + ' ' + hi + 'V' + lo + 'M' + (x - 12) + ' ' + hi + 'H' + (x + 12) + 'M' + (x - 12) + ' ' + lo + 'H' + (x + 12), fill: 'none', stroke: '#000', 'stroke-width': 4.5 }, sg);
      
      
    });

    const pts = s.values.map(function (v, i) { return xScale(i) + ',' + yScale(v); }).join(' ');
    const line = mk('polyline', { points: pts, fill: 'none', stroke: style.line, 'stroke-width': 13, 'stroke-linejoin': 'round', 'stroke-linecap': 'round' }, sg);
    
    

    s.values.forEach(function (v, i) {
      const m = drawMarker(style.shape, xScale(i), yScale(v), style.marker, sg, 1);
      
      
    });
  });
}

drawPanel({
  title: 'C70', x0: 134, x1: 625, yTop: 1735, yBottom: 2638, labelRight: 89, xLabelBaseline: 2718, titleX: 379, titleBaseline: 1821,
  series: [
    { values: c70Control, low: c70ControlLow, high: c70ControlHigh },
    { values: c70Phenformin, low: c70PhenforminLow, high: c70PhenforminHigh },
    { values: c70Doxorubicine, low: c70DoxorubicineLow, high: c70DoxorubicineHigh },
    { values: c70Taxotere, low: c70TaxotereLow, high: c70TaxotereHigh }
  ]
});
drawPanel({
  title: 'C73', x0: 790, x1: 1306, yTop: 1737.5, yBottom: 2639.5, labelRight: 743, xLabelBaseline: 2720, titleX: 1001, titleBaseline: 1820,
  series: [
    { values: c73Control, low: c73ControlLow, high: c73ControlHigh },
    { values: c73Phenformin, low: c73PhenforminLow, high: c73PhenforminHigh },
    { values: c73Doxorubicine, low: c73DoxorubicineLow, high: c73DoxorubicineHigh },
    { values: c73Taxotere, low: c73TaxotereLow, high: c73TaxotereHigh }
  ]
});
drawPanel({
  title: 'C80', x0: 1469, x1: 1975, yTop: 1739.5, yBottom: 2644, labelRight: 1423, xLabelBaseline: 2725, titleX: 1740, titleBaseline: 1819,
  series: [
    { values: c80Control, low: c80ControlLow, high: c80ControlHigh },
    { values: c80Phenformin, low: c80PhenforminLow, high: c80PhenforminHigh },
    { values: c80Doxorubicine, low: c80DoxorubicineLow, high: c80DoxorubicineHigh },
    { values: c80Taxotere, low: c80TaxotereLow, high: c80TaxotereHigh }
  ]
});
drawPanel({
  title: 'C81', x0: 2145, x1: 2691, yTop: 1735, yBottom: 2637, labelRight: 2099, xLabelBaseline: 2718, titleX: 2424, titleBaseline: 1814,
  series: [
    { values: c81Control, low: c81ControlLow, high: c81ControlHigh },
    { values: c81Phenformin, low: c81PhenforminLow, high: c81PhenforminHigh },
    { values: c81Doxorubicine, low: c81DoxorubicineLow, high: c81DoxorubicineHigh },
    { values: c81Taxotere, low: c81TaxotereLow, high: c81TaxotereHigh }
  ]
});

const legendColumns = [875, 1408];
const legendRows = [2821, 2933];
const legendTextWidths = [119, 316, 228, 148];
seriesLabels.forEach(function (name, i) {
  const col = i % 2;
  const row = Math.floor(i / 2);
  const x0 = legendColumns[col];
  const y = legendRows[row];
  const style = seriesStyles[i];
  const entry = mk('g', {}, legendRoot);
  
  
  const line = mk('line', { x1: x0, x2: x0 + 105, y1: y, y2: y, stroke: style.line, 'stroke-width': 13, 'stroke-linecap': 'round' }, entry);
  
  
  const marker = drawMarker(style.shape, x0 + 52, y, style.marker, entry, 0.62);
  
  
  const label = mk('text', { x: x0 + 118, y: y + 16, 'font-size': 44, class: 'kr', fill: '#111', textLength: legendTextWidths[i], lengthAdjust: 'spacingAndGlyphs' }, entry);
  label.textContent = name;
  
  
});
</script>
</body>
</html>
